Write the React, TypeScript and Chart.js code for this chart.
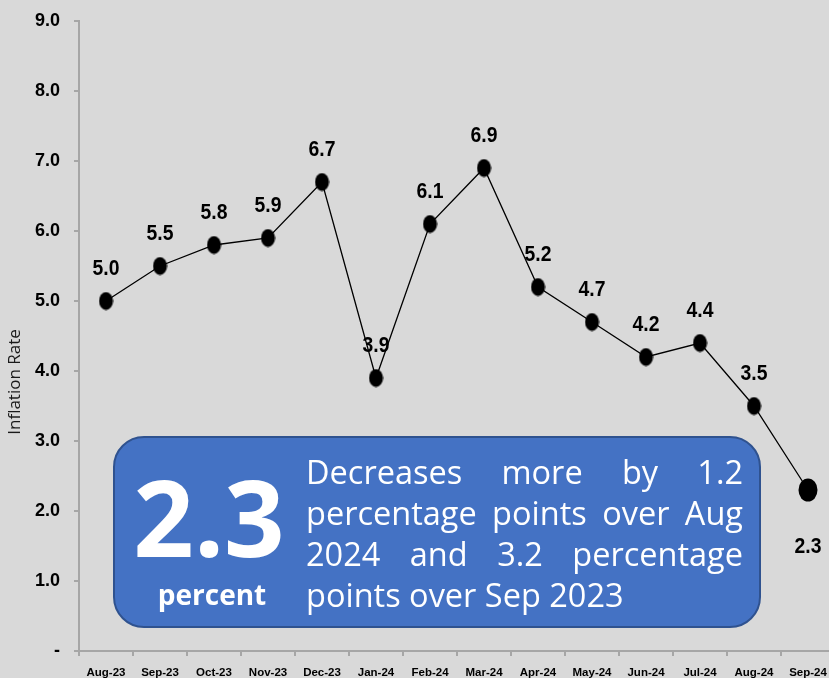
import { useEffect, useRef } from 'react';
import { Chart, registerables } from 'chart.js';

Chart.register(...registerables);

const categories = ['Aug-23', 'Sep-23', 'Oct-23', 'Nov-23', 'Dec-23', 'Jan-24', 'Feb-24', 'Mar-24', 'Apr-24', 'May-24', 'Jun-24', 'Jul-24', 'Aug-24', 'Sep-24'];
const inflation = [5.0, 5.5, 5.8, 5.9, 6.7, 3.9, 6.1, 6.9, 5.2, 4.7, 4.2, 4.4, 3.5, 2.3];
const highlightIndex = 13;
const yAxisTitle = 'Inflation Rate';
const calloutValue = '2.3';
const calloutUnit = 'percent';
const calloutLines = ['Decreases more by 1.2', 'percentage points over Aug', '2024 and 3.2 percentage', 'points over Sep 2023'];

const BOLDF = "'Liberation Sans', Arial, sans-serif";
const SANS = "'Open Sans', 'Noto Sans', sans-serif";
const BG = '#d9d9d9';
const AXIS = '#a6a6a6';

function makeDot(w: number, h: number) {
  const c = document.createElement('canvas');
  c.width = w;
  c.height = h;
  const ctx = c.getContext('2d')!;
  ctx.fillStyle = '#000';
  ctx.beginPath();
  ctx.ellipse(w / 2, h / 2, w / 2 - 0.5, h / 2 - 0.5, 0, 0, Math.PI * 2);
  ctx.fill();
  return c;
}

function roundRect(ctx: CanvasRenderingContext2D, x: number, y: number, w: number, h: number, r: number) {
  ctx.beginPath();
  ctx.moveTo(x + r, y);
  ctx.lineTo(x + w - r, y);
  ctx.arcTo(x + w, y, x + w, y + r, r);
  ctx.lineTo(x + w, y + h - r);
  ctx.arcTo(x + w, y + h, x + w - r, y + h, r);
  ctx.lineTo(x + r, y + h);
  ctx.arcTo(x, y + h, x, y + h - r, r);
  ctx.lineTo(x, y + r);
  ctx.arcTo(x, y, x + r, y, r);
  ctx.closePath();
}

const bgPlugin = {
  id: 'bg',
  beforeDraw(chart: any) {
    const { ctx, width, height } = chart;
    ctx.save();
    ctx.fillStyle = BG;
    ctx.fillRect(0, 0, width, height);
    ctx.restore();
  },
};

const labelPlugin = {
  id: 'valueLabels',
  afterDatasetsDraw(chart: any) {
    const { ctx } = chart;
    const meta = chart.getDatasetMeta(0);
    meta.data.forEach((pt: any, i: number) => {
      const v = inflation[i];
      const dy = i === highlightIndex ? 57 : -32;
      ctx.save();
      ctx.translate(pt.x, pt.y + dy);
      ctx.scale(0.86, 1);
      ctx.font = `bold 22.5px ${BOLDF}`;
      ctx.fillStyle = '#000';
      ctx.textAlign = 'center';
      ctx.textBaseline = 'middle';
      ctx.fillText(v.toFixed(1), 0, 0);
      ctx.restore();
    });
  },
};

const overlayPlugin = {
  id: 'overlay',
  afterDraw(chart: any) {
    const { ctx } = chart;
    ctx.save();
    ctx.translate(15, 382);
    ctx.rotate(-Math.PI / 2);
    ctx.font = `17px ${SANS}`;
    ctx.fillStyle = '#1a1a1a';
    ctx.textAlign = 'center';
    ctx.textBaseline = 'middle';
    ctx.fillText(yAxisTitle, 0, 0);
    ctx.restore();

    ctx.save();
    const bx = 114, by = 437, bw = 646, bh = 190;
    roundRect(ctx, bx, by, bw, bh, 30);
    ctx.fillStyle = '#4472c4';
    ctx.fill();
    ctx.lineWidth = 2;
    ctx.strokeStyle = '#2f528f';
    ctx.stroke();

    ctx.fillStyle = '#ffffff';
    ctx.textAlign = 'center';
    ctx.textBaseline = 'alphabetic';
    ctx.font = `bold 106px ${SANS}`;
    ctx.fillText(calloutValue, 209, 557);
    ctx.font = `bold 28px ${SANS}`;
    ctx.fillText(calloutUnit, 212, 605);

    ctx.font = `32.5px ${SANS}`;
    ctx.textAlign = 'left';
    const left = 306, right = 743;
    const baselines = [484, 525, 566, 607];
    calloutLines.forEach((line, li) => {
      const words = line.split(' ');
      const y = baselines[li];
      if (li === calloutLines.length - 1) {
        ctx.fillText(line, left, y);
        return;
      }
      const widths = words.map((w) => ctx.measureText(w).width);
      const total = widths.reduce((a, b) => a + b, 0);
      const gap = (right - left - total) / (words.length - 1);
      let x = left;
      words.forEach((w, wi) => {
        ctx.fillText(w, x, y);
        x += widths[wi] + gap;
      });
    });
    ctx.restore();
  },
};

export default function App() {
  const ref = useRef<HTMLCanvasElement>(null);
  useEffect(() => {
    document.documentElement.style.overflow = 'hidden';
    document.body.style.margin = '0';
    document.body.style.overflow = 'hidden';
    document.body.style.background = BG;
    const dot = makeDot(15, 19);
    const bigDot = makeDot(20, 24);
    const chart = new Chart(ref.current!, {
      type: 'line',
      data: {
        labels: categories,
        datasets: [
          {
            data: inflation,
            borderColor: '#000',
            borderWidth: 1.3,
            fill: false,
            tension: 0,
            pointStyle: inflation.map((_, i) => (i === highlightIndex ? bigDot : dot)) as any,
            pointRadius: 9,
            pointHoverRadius: 9,
          },
        ],
      },
      options: {
        responsive: false,
        animation: false,
        layout: { autoPadding: false, padding: { top: 21, right: 0, left: 0, bottom: 0 } },
        plugins: { legend: { display: false }, tooltip: { enabled: false } },
        scales: {
          x: {
            type: 'category',
            offset: true,
            grid: { offset: true, drawOnChartArea: false, drawTicks: true, tickLength: 5, color: AXIS, lineWidth: 2 },
            border: { display: true, color: AXIS, width: 2 },
            ticks: {
              autoSkip: false,
              maxRotation: 0,
              padding: 10,
              color: '#000',
              font: { family: BOLDF, weight: 'bold', size: 11.5 },
            },
            afterFit(scale: any) {
              scale.height = 27;
              scale.paddingLeft = 0;
              scale.paddingRight = 0;
            },
          },
          y: {
            min: 0,
            max: 9,
            ticks: {
              stepSize: 1,
              padding: 14,
              color: '#000',
              font: { family: BOLDF, weight: 'bold', size: 18 },
              callback: (v: any) => (Number(v) === 0 ? '-' : Number(v).toFixed(1)),
            },
            grid: { drawOnChartArea: false, drawTicks: true, tickLength: 5, color: AXIS, lineWidth: 2 },
            border: { display: true, color: AXIS, width: 2 },
            afterFit(scale: any) {
              scale.width = 79;
              scale.paddingTop = 0;
              scale.paddingBottom = 0;
            },
          },
        },
      },
      plugins: [bgPlugin, labelPlugin, overlayPlugin],
    });
    return () => chart.destroy();
  }, []);
  return (
    <div style={{ position: 'fixed', left: 0, top: 0, width: 835, height: 678 }}>
      <canvas ref={ref} width={835} height={678} />
    </div>
  );
}
